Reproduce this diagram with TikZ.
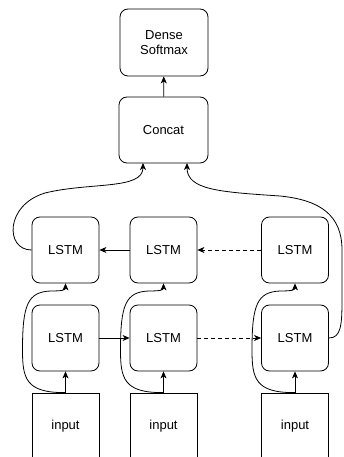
\documentclass[tikz,border=0pt]{standalone}
\usepackage{fontspec}
\setmainfont{Liberation Sans}
\usetikzlibrary{arrows.meta}
\begin{document}
\begin{tikzpicture}[x=1pt,y=-1pt,
  every node/.style={font=\fontsize{13}{15}\selectfont},
  cell/.style={draw, rounded corners=8pt, minimum width=67pt, minimum height=66pt,
               inner sep=0pt, line width=0.8pt, align=center},
  src/.style={draw, minimum width=67pt, minimum height=67pt, inner sep=0pt, line width=0.8pt},
  link/.style={line width=0.8pt, -{Stealth[length=7pt,width=6pt,inset=2pt]}},
  hop/.style={link, dashed, dash pattern=on 4pt off 3pt}]
\clip (0,0) rectangle (343,457);

% head of the network
\node[cell, minimum width=88pt, minimum height=67pt] (dense) at (164,42.5) {Dense\\Softmax};
\node[cell, minimum width=89pt] (concat) at (163.5,130) {Concat};

% backward layer (top) and forward layer (bottom)
\node[cell] (b1) at (65.5,250) {LSTM};
\node[cell] (b2) at (163.5,250) {LSTM};
\node[cell] (b3) at (295,250) {LSTM};
\node[cell] (f1) at (65.5,338) {LSTM};
\node[cell] (f2) at (163.5,338) {LSTM};
\node[cell] (f3) at (295,338) {LSTM};

% inputs
\node[src] (i1) at (65.5,426.5) {input};
\node[src] (i2) at (163.5,426.5) {input};
\node[src] (i3) at (295,426.5) {input};

\draw[link] (concat) -- (dense);

% inputs into the forward layer
\draw[link] (i1) -- (f1);
\draw[link] (i2) -- (f2);
\draw[link] (i3) -- (f3);

% recurrent links
\draw[link] (f1) -- (f2);
\draw[hop] (f2) -- (f3);
\draw[hop] (b3) -- (b2);
\draw[link] (b2) -- (b1);

% inputs routed around the forward cells into the backward layer
\draw[link] (i1.north) .. controls (25.5,393) and (22.5,378) .. (22.5,350)
  .. controls (22.5,305) and (27.5,292) .. (50.5,291)
  .. controls (62.5,291) and (65.5,290) .. (b1.south);
\draw[link] (i2.north) .. controls (123.5,393) and (120.5,378) .. (120.5,350)
  .. controls (120.5,305) and (125.5,292) .. (148.5,291)
  .. controls (160.5,291) and (163.5,290) .. (b2.south);
\draw[link] (i3.north) .. controls (255,393) and (252,378) .. (252,350)
  .. controls (252,305) and (257,292) .. (280,291)
  .. controls (292,291) and (295,290) .. (b3.south);

% layer outputs into the concatenation
\draw[link] (b1.west) .. controls (5,250) and (5,205) .. (45,193)
  .. controls (90,182) and (143,190) .. (143,163);
\draw[link] (f3.east) .. controls (341,338) and (342,325) .. (342,300)
  -- (342,250) .. controls (342,215) and (320,200) .. (280,196)
  .. controls (220,192) and (187,190) .. (187,163);
\end{tikzpicture}
\end{document}
